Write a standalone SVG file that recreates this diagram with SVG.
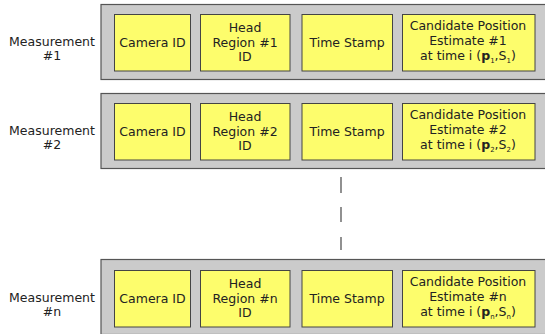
<svg xmlns="http://www.w3.org/2000/svg" width="545" height="334" viewBox="0 0 545 334">
<style>
.outer{fill:#cbcbcb;stroke:#555;stroke-width:1.2}
.cell{fill:#fdfd6c;stroke:#444;stroke-width:1}
text{font-family:"DejaVu Sans",sans-serif;font-size:12.5px;fill:#222;text-anchor:middle}
.sub{font-size:7px}
.dash{stroke:#555;stroke-width:1.3}
</style>
<rect width="545" height="334" fill="#fff"/>
<g id="measurement-1">
<text x="52" y="46">Measurement</text><text x="52" y="60">#1</text>
<rect class="outer" x="101" y="4.5" width="450" height="75"/>
<g id="m1-camera"><rect class="cell" x="114.5" y="14.5" width="76" height="56.5"/><text x="152.5" y="47">Camera ID</text></g>
<g id="m1-head"><rect class="cell" x="200.5" y="14.5" width="89.5" height="56.5"/><text x="245" y="32">Head</text><text x="245" y="47">Region #1</text><text x="245" y="61">ID</text></g>
<g id="m1-time"><rect class="cell" x="302" y="14.5" width="90.5" height="56.5"/><text x="347" y="47">Time Stamp</text></g>
<g id="m1-cand"><rect class="cell" x="402.5" y="14.5" width="132.5" height="56.5"/><text x="468" y="30">Candidate Position</text><text x="468" y="44.5">Estimate #1</text><text x="468" y="59.5">at time i (<tspan font-weight="bold">p</tspan><tspan class="sub" dy="3">1</tspan><tspan dy="-3">,S</tspan><tspan class="sub" dy="3">1</tspan><tspan dy="-3">)</tspan></text></g>
</g>
<g id="measurement-2" transform="translate(0,89)">
<text x="52" y="46">Measurement</text><text x="52" y="60">#2</text>
<rect class="outer" x="101" y="4.5" width="450" height="75"/>
<g id="m2-camera"><rect class="cell" x="114.5" y="14.5" width="76" height="56.5"/><text x="152.5" y="47">Camera ID</text></g>
<g id="m2-head"><rect class="cell" x="200.5" y="14.5" width="89.5" height="56.5"/><text x="245" y="32">Head</text><text x="245" y="47">Region #2</text><text x="245" y="61">ID</text></g>
<g id="m2-time"><rect class="cell" x="302" y="14.5" width="90.5" height="56.5"/><text x="347" y="47">Time Stamp</text></g>
<g id="m2-cand"><rect class="cell" x="402.5" y="14.5" width="132.5" height="56.5"/><text x="468" y="30">Candidate Position</text><text x="468" y="44.5">Estimate #2</text><text x="468" y="59.5">at time i (<tspan font-weight="bold">p</tspan><tspan class="sub" dy="3">2</tspan><tspan dy="-3">,S</tspan><tspan class="sub" dy="3">2</tspan><tspan dy="-3">)</tspan></text></g>
</g>
<g id="measurement-n" transform="translate(0,256)">
<text x="52" y="46">Measurement</text><text x="52" y="60">#n</text>
<rect class="outer" x="101" y="3.5" width="450" height="75"/>
<g id="mn-camera"><rect class="cell" x="114.5" y="14.5" width="76" height="56.5"/><text x="152.5" y="47">Camera ID</text></g>
<g id="mn-head"><rect class="cell" x="200.5" y="14.5" width="89.5" height="56.5"/><text x="245" y="32">Head</text><text x="245" y="47">Region #n</text><text x="245" y="61">ID</text></g>
<g id="mn-time"><rect class="cell" x="302" y="14.5" width="90.5" height="56.5"/><text x="347" y="47">Time Stamp</text></g>
<g id="mn-cand"><rect class="cell" x="402.5" y="14.5" width="132.5" height="56.5"/><text x="468" y="30">Candidate Position</text><text x="468" y="44.5">Estimate #n</text><text x="468" y="59.5">at time i (<tspan font-weight="bold">p</tspan><tspan class="sub" dy="3">n</tspan><tspan dy="-3">,S</tspan><tspan class="sub" dy="3">n</tspan><tspan dy="-3">)</tspan></text></g>
</g>
<g id="connectors">
<line class="dash" x1="341" y1="177" x2="341" y2="193"/>
<line class="dash" x1="341" y1="207" x2="341" y2="222"/>
<line class="dash" x1="341" y1="237" x2="341" y2="250"/>
</g>
</svg>
